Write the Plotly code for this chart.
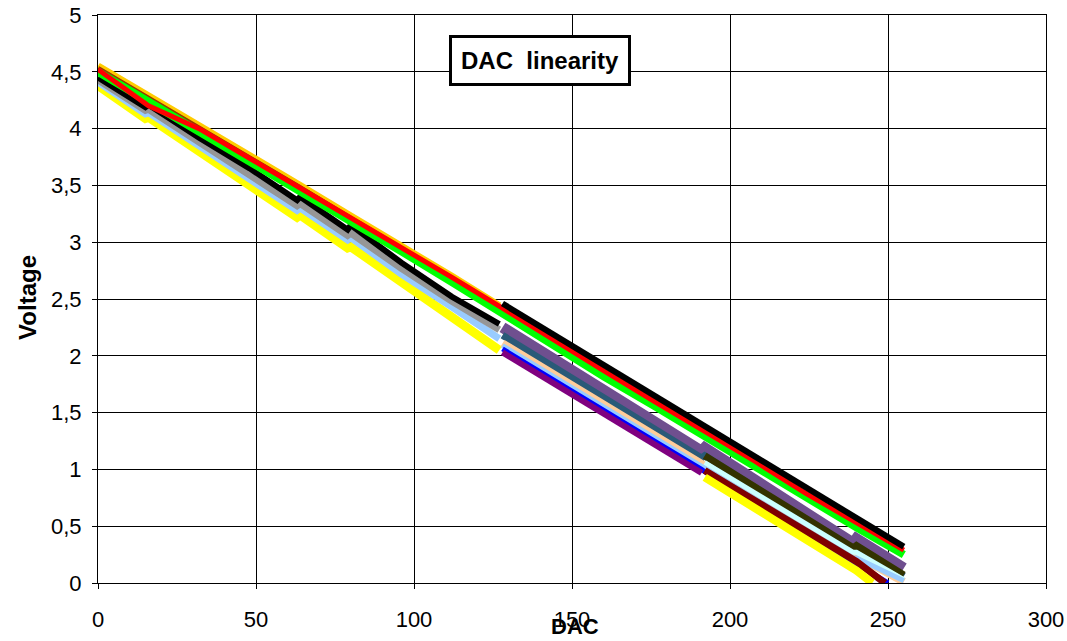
import plotly.graph_objects as go

# ---------------- data ----------------
# upper group (whole range)
X_UP = [0, 16, 32, 48, 64, 80, 96, 112, 128, 144, 160, 176, 192, 208, 224, 240, 255]
green = [4.50, 4.24, 3.98, 3.71, 3.45, 3.18, 2.92, 2.65, 2.37, 2.10, 1.82, 1.56, 1.29, 1.02, 0.75, 0.49, 0.25]
red = [4.52, 4.20, 4.00, 3.74, 3.48, 3.22, 2.95, 2.69, 2.42, 2.14, 1.87, 1.60, 1.34, 1.07, 0.79, 0.53, 0.29]

# upper group, first half
X_TOP1 = [0, 16, 32, 48, 64, 80, 96, 112, 127]
orange = [4.55, 4.29, 4.03, 3.76, 3.50, 3.23, 2.97, 2.70, 2.44]
brown = [4.53, 4.27, 4.01, 3.74, 3.48, 3.21, 2.95, 2.68, 2.42]

# upper group, second half
X_TOP2 = [128, 144, 160, 176, 192, 208, 224, 240, 255]
black_hi = [2.46, 2.19, 1.91, 1.65, 1.38, 1.11, 0.84, 0.57, 0.32]

# lower group (first half)
X_LOW = [0, 15, 16, 32, 48, 63, 64, 79, 80, 96, 112, 127]
black_lo = [4.45, 4.19, 4.21, 3.92, 3.65, 3.37, 3.40, 3.11, 3.15, 2.82, 2.52, 2.28]
gray_lo = [4.43, 4.16, 4.17, 3.88, 3.60, 3.32, 3.34, 3.06, 3.08, 2.77, 2.48, 2.23]
ltblue_lo = [4.41, 4.13, 4.14, 3.85, 3.57, 3.28, 3.30, 3.02, 3.04, 2.72, 2.43, 2.15]
yellow_lo = [4.38, 4.09, 4.10, 3.80, 3.51, 3.22, 3.24, 2.95, 2.96, 2.64, 2.34, 2.05]

# middle group (second half)
X_MID = [128, 144, 160, 176, 191, 192, 208, 224, 239, 240, 255]
slate = [2.25, 1.97, 1.69, 1.42, 1.16, 1.19, 0.91, 0.64, 0.35, 0.39, 0.13]
navy = [2.18, 1.91, 1.63, 1.36, 1.10, 1.12, 0.84, 0.57, 0.29, 0.32, 0.06]
tan = [2.11, 1.84, 1.56, 1.29, 1.04, 1.04, 0.77, 0.49, 0.24, 0.24, 0.01]
ltblue_mid = [2.09, 1.82, 1.54, 1.27, 1.02, 1.01, 0.74, 0.47, 0.22, 0.22, 0.02]

X_BLUE = [128, 144, 160, 176, 191, 192, 208, 224, 239, 240, 250]
blue = [2.06, 1.79, 1.51, 1.25, 1.00, 0.98, 0.71, 0.44, 0.19, 0.18, 0.00]

X_MAG = [128, 144, 160, 176, 191]
magenta = [2.03, 1.76, 1.48, 1.22, 0.97]

X_MID_B = [192, 208, 224, 239, 240, 255]
olive = [1.12, 0.85, 0.58, 0.31, 0.33, 0.07]
ltcyan = [1.06, 0.79, 0.52, 0.27, 0.27, 0.03]

X_MAROON = [192, 208, 224, 240, 249]
maroon = [0.99, 0.72, 0.45, 0.19, 0.00]

X_YEL = [192, 208, 224, 240, 245]
yellow_mid = [0.93, 0.66, 0.39, 0.11, 0.00]

X_TICKS = [0, 50, 100, 150, 200, 250, 300]

# ---------------- figure ----------------
series = [
    # lower group
    (X_LOW, yellow_lo, "#FFFF00", 9),
    (X_LOW, ltblue_lo, "#99CCFF", 7),
    (X_LOW, gray_lo, "#969696", 7),
    (X_LOW, black_lo, "#000000", 6),
    # middle group
    (X_MID, slate, "#6F4F8F", 11),
    (X_MID, navy, "#2A5A78", 7),
    (X_MID_B, olive, "#333300", 7),
    (X_MID, tan, "#FFCC99", 8),
    (X_MID_B, ltcyan, "#CCFFFF", 5),
    (X_MID, ltblue_mid, "#99CCFF", 5),
    (X_BLUE, blue, "#0000FF", 5),
    (X_MAG, magenta, "#800080", 6),
    (X_MAROON, maroon, "#800000", 7),
    (X_YEL, yellow_mid, "#FFFF00", 8),
    # upper group
    (X_TOP1, orange, "#FFCC00", 7),
    (X_TOP1, brown, "#993300", 5),
    (X_UP, green, "#00FF00", 8),
    (X_UP, red, "#FF0000", 5),
    (X_TOP2, black_hi, "#000000", 6),
]

fig = go.Figure()
for xs, ys, col, w in series:
    fig.add_trace(go.Scatter(x=xs, y=ys, mode="lines",
                             line=dict(color=col, width=w),
                             hoverinfo="skip", showlegend=False))

FONT = "Liberation Sans, Arial, sans-serif"

fig.update_layout(
    width=1067, height=641,
    margin=dict(l=98, r=21, t=15, b=58),
    paper_bgcolor="white", plot_bgcolor="white",
    separators=", ",
    font=dict(family=FONT, color="black", size=22),
    showlegend=False,
    xaxis=dict(range=[0, 300], tickvals=X_TICKS, showgrid=True, automargin=False,
               gridcolor="#000000", gridwidth=1, zeroline=False,
               showline=True, linecolor="#000000", linewidth=1, mirror=True,
               ticks="outside", ticklen=5, tickcolor="#000000",
               tickfont=dict(size=22, family=FONT), ticklabelstandoff=12),
    yaxis=dict(range=[0, 5], tick0=0, dtick=0.5, showgrid=True, automargin=False,
               gridcolor="#000000", gridwidth=1, zeroline=False,
               showline=True, linecolor="#000000", linewidth=1, mirror=True,
               ticks="outside", ticklen=5, tickcolor="#000000",
               tickfont=dict(size=22, family=FONT), ticklabelstandoff=6),
    annotations=[
        dict(text="<b>DAC\u00a0 linearity</b>", xref="paper", yref="paper",
             x=0.4662, y=0.9199, xanchor="center", yanchor="middle",
             showarrow=False, font=dict(size=24, family=FONT, color="black"),
             bgcolor="white", bordercolor="black", borderwidth=3, borderpad=9),
        dict(text="<b>DAC</b>", xref="paper", yref="paper",
             x=0.503, y=-0.077, xanchor="center", yanchor="middle",
             showarrow=False, font=dict(size=22, family=FONT, color="black")),
        dict(text="<b>Voltage</b>", xref="paper", yref="paper",
             x=-0.0738, y=0.502, xanchor="center", yanchor="middle",
             textangle=-90, showarrow=False,
             font=dict(size=24, family=FONT, color="black")),
    ],
)

fig.write_html("out.html")
